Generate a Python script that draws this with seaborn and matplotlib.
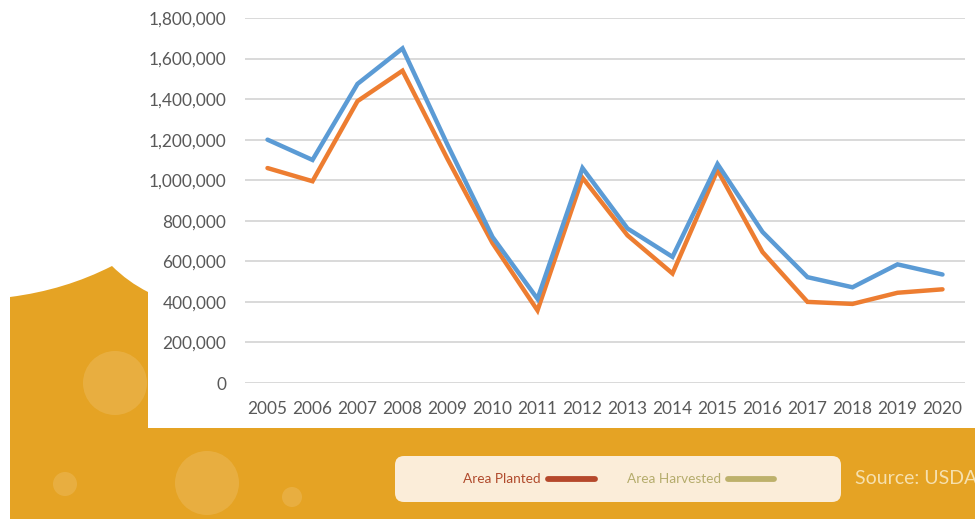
import numpy as np
import pandas as pd
import matplotlib
matplotlib.use("Agg")
import matplotlib.pyplot as plt
import matplotlib.patches as mpatches
from matplotlib.path import Path
from matplotlib.transforms import Affine2D
from matplotlib.ticker import FuncFormatter
import seaborn as sns

# Cotton acreage by year (acres)
years = list(range(2005, 2021))
area_planted = [1200000, 1100000, 1475000, 1650000, 1175000, 720000, 415000, 1060000,
                762000, 622000, 1080000, 745000, 522000, 472000, 585000, 535000]
area_harvested = [1060000, 995000, 1390000, 1540000, 1105000, 690000, 358000, 1012000,
                  728000, 540000, 1050000, 646000, 400000, 390000, 445000, 462000]
legend_labels = ["Area Planted", "Area Harvested"]
source_text = "Source: USDA"

W, H = 975, 519
ORANGE = "#E5A324"

sns.set_theme(style="white")
plt.rcParams["font.family"] = ["Lato", "DejaVu Sans"]

fig = plt.figure(figsize=(W / 100, H / 100), dpi=100)
fig.patch.set_facecolor("white")

# pixel-space transform (origin top-left) for the decorative backdrop
px = Affine2D().scale(1 / W, -1 / H).translate(0, 1) + fig.transFigure

verts = [
    (10, 519), (10, 297),
    (65, 290), (112, 266),          # curved shoulder rising to the tip
    (128, 282), (148, 292),         # short slope back down
    (148, 428), (975, 428), (975, 519), (10, 519),
]
codes = [Path.MOVETO, Path.LINETO,
         Path.CURVE3, Path.CURVE3,
         Path.CURVE3, Path.CURVE3,
         Path.LINETO, Path.LINETO, Path.LINETO, Path.CLOSEPOLY]
fig.patches.append(mpatches.PathPatch(Path(verts, codes), facecolor=ORANGE,
                                      edgecolor="none", transform=px, zorder=0))

for (cx, cy, r) in [(115, 383, 32), (65, 484, 12), (207, 483, 32), (292, 497, 10)]:
    fig.patches.append(mpatches.Ellipse((cx, cy), 2 * r, 2 * r, facecolor="white",
                                        alpha=0.13, edgecolor="none",
                                        transform=px, zorder=1))

# legend panel
fig.patches.append(mpatches.FancyBboxPatch((398, 459), 440, 40,
                                           boxstyle="round,pad=3,rounding_size=9",
                                           facecolor="#FBEDD9", edgecolor="none",
                                           transform=px, zorder=2))

# chart area
ax = fig.add_axes([245 / W, (H - 383) / H, 720 / W, 365 / H])
ax.set_facecolor("none")

df = pd.DataFrame({"year": years + years,
                   "acres": area_planted + area_harvested,
                   "series": [legend_labels[0]] * len(years) + [legend_labels[1]] * len(years)})

sns.lineplot(data=df, x="year", y="acres", hue="series",
             palette={legend_labels[0]: "#5B9BD5", legend_labels[1]: "#ED7D31"},
             hue_order=[legend_labels[1], legend_labels[0]],
             linewidth=3.2, legend=False, ax=ax, zorder=3)
for ln in ax.lines:
    ln.set_solid_joinstyle("miter")

ax.set_xlim(2004.5, 2020.5)
ax.set_ylim(0, 1800000)
ax.set_yticks(np.arange(0, 1800001, 200000))
ax.yaxis.set_major_formatter(FuncFormatter(lambda v, p: f"{int(v):,}"))
ax.set_xticks(years)
ax.set_xticklabels([str(y) for y in years])
ax.grid(axis="y", color="#D9D9D9", linewidth=1.4)
ax.set_axisbelow(True)
for s in ax.spines.values():
    s.set_visible(False)
ax.tick_params(axis="both", length=0, labelsize=12.4, labelcolor="#595959")
ax.tick_params(axis="y", pad=13.5)
ax.tick_params(axis="x", pad=13)
ax.set_xlabel("")
ax.set_ylabel("")

# custom legend inside the panel
fig.text(541 / W, 1 - 479 / H, legend_labels[0], ha="right", va="center",
         fontsize=9.8, color="#B04A2C", zorder=5)
fig.lines.append(plt.Line2D([548, 595], [479, 479], transform=px, color="#B5482B",
                            linewidth=4.2, solid_capstyle="round", zorder=5))
fig.text(721 / W, 1 - 479 / H, legend_labels[1], ha="right", va="center",
         fontsize=9.8, color="#B5AC6C", zorder=5)
fig.lines.append(plt.Line2D([728, 774], [479, 479], transform=px, color="#BDB16B",
                            linewidth=4.2, solid_capstyle="round", zorder=5))

fig.text(855 / W, 1 - 479 / H, source_text, ha="left", va="center",
         fontsize=14, color="#F6E0AE", zorder=5)

fig.savefig("out.png", dpi=100, facecolor=fig.get_facecolor())
